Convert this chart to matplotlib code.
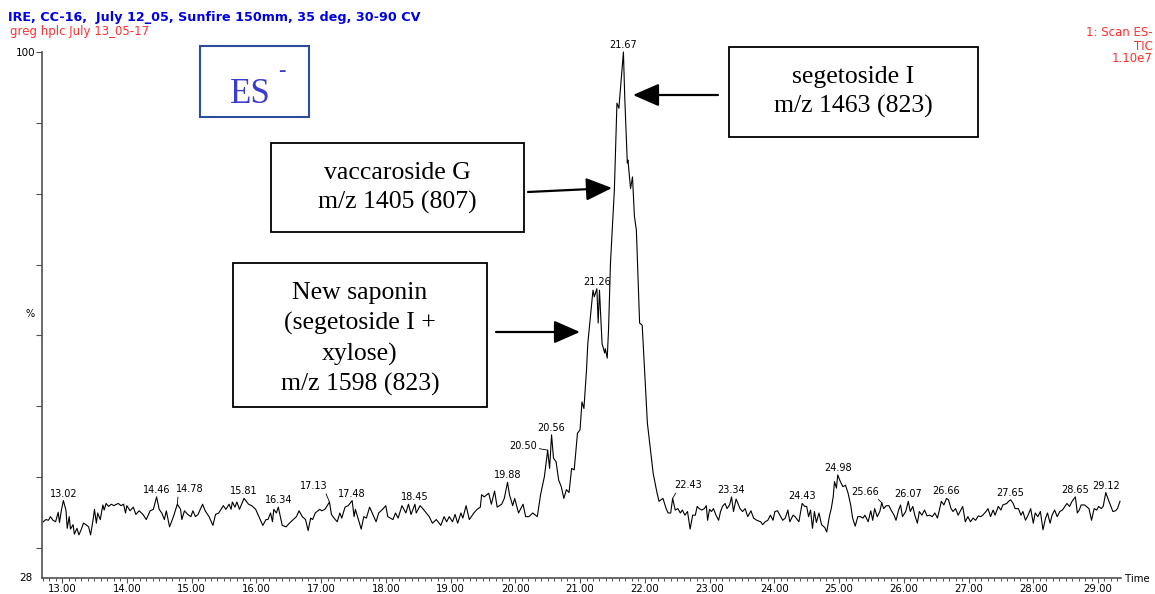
import numpy as np
import matplotlib
matplotlib.use('Agg')
import matplotlib.pyplot as plt
from matplotlib.patches import Rectangle

# TIC trace, retention time (min) vs relative intensity (%)
rt_front = [12.71, 12.75, 12.79, 12.82, 12.86, 12.90, 12.94, 12.96, 12.99, 13.02,
            13.06, 13.08, 13.11, 13.13, 13.17, 13.19, 13.23, 13.26, 13.29, 13.33,
            13.37, 13.41, 13.44, 13.48, 13.50, 13.53, 13.55, 13.59, 13.63, 13.65,
            13.68, 13.72, 13.76, 13.80, 13.84, 13.87, 13.91, 13.95, 13.98, 14.00,
            14.05, 14.10, 14.14, 14.19, 14.25, 14.30, 14.36, 14.41, 14.46, 14.50,
            14.54, 14.58, 14.61, 14.66, 14.72, 14.78, 14.83, 14.85, 14.89, 14.94,
            14.99, 15.02, 15.06, 15.10, 15.17, 15.21, 15.27, 15.33, 15.37, 15.42,
            15.49, 15.53, 15.58, 15.61, 15.63, 15.67, 15.70, 15.74, 15.81, 15.88,
            15.93, 15.99, 16.04, 16.10, 16.15, 16.18, 16.22, 16.25, 16.27, 16.31,
            16.34, 16.40, 16.46, 16.51, 16.57, 16.62, 16.66, 16.71, 16.76, 16.80,
            16.84, 16.87, 16.91, 16.98, 17.01, 17.06, 17.13, 17.16, 17.20, 17.25,
            17.29, 17.32, 17.37, 17.42, 17.48, 17.51, 17.53, 17.62, 17.66, 17.70,
            17.75, 17.80, 17.85, 17.89, 17.95, 18.00, 18.03, 18.11, 18.15, 18.19,
            18.25, 18.31, 18.35, 18.39, 18.45, 18.47, 18.53, 18.58, 18.67, 18.72,
            18.78, 18.85, 18.90, 18.94, 18.98, 19.03, 19.07, 19.11, 19.16, 19.19,
            19.24, 19.29, 19.36, 19.41, 19.46, 19.48, 19.52, 19.59, 19.63, 19.68,
            19.72, 19.79, 19.83, 19.88, 19.91, 19.96, 19.99, 20.05, 20.12, 20.16,
            20.21, 20.27, 20.34]
tic_front = [35.7, 36.0, 35.9, 36.4, 35.9, 35.7, 37.0, 35.6, 37.3, 38.6,
             37.3, 34.8, 36.4, 34.7, 35.3, 34.0, 34.8, 33.9, 34.5, 35.5,
             35.3, 35.0, 33.9, 36.0, 37.4, 35.5, 36.9, 36.0, 38.0, 37.3,
             38.2, 37.8, 38.1, 37.9, 38.1, 38.2, 37.9, 38.1, 36.9, 37.9,
             37.2, 37.7, 36.7, 37.2, 36.7, 36.0, 37.2, 37.4, 39.1, 37.4,
             36.9, 36.0, 37.2, 35.0, 36.4, 38.1, 37.4, 36.0, 37.2, 36.7,
             36.4, 37.2, 36.4, 36.7, 38.1, 37.2, 36.4, 35.2, 36.7, 36.9,
             37.9, 37.4, 38.1, 37.4, 38.4, 37.7, 38.4, 37.4, 38.9, 38.1,
             37.9, 37.4, 36.4, 35.2, 36.0, 36.0, 36.9, 35.7, 37.4, 36.9,
             37.7, 35.2, 35.0, 35.5, 36.0, 36.4, 37.2, 36.4, 36.0, 34.5,
             36.2, 36.0, 36.9, 37.4, 37.2, 37.4, 38.4, 36.7, 36.2, 35.7,
             36.9, 36.2, 37.7, 37.9, 38.6, 36.4, 37.4, 34.7, 36.4, 36.2,
             37.7, 36.7, 35.7, 36.9, 37.4, 37.9, 36.4, 36.0, 36.9, 36.2,
             37.9, 36.9, 38.1, 36.7, 38.1, 36.9, 37.9, 37.4, 36.4, 35.5,
             36.0, 35.2, 36.4, 35.7, 36.4, 35.7, 36.7, 35.5, 36.9, 36.2,
             37.9, 36.0, 36.9, 37.4, 37.7, 39.4, 39.1, 39.6, 38.1, 39.9,
             37.7, 38.1, 38.9, 41.1, 39.4, 37.9, 38.9, 36.9, 38.1, 36.4,
             36.4, 36.9, 36.4]

rt_peak = [20.39, 20.45, 20.50, 20.53, 20.56, 20.59, 20.63, 20.67, 20.71, 20.75,
           20.79, 20.83, 20.87, 20.91, 20.96, 21.00, 21.03, 21.06, 21.10, 21.12,
           21.16, 21.20, 21.22, 21.26, 21.28, 21.30, 21.34, 21.38, 21.39, 21.42,
           21.44, 21.47, 21.53, 21.57, 21.60, 21.67, 21.69, 21.73, 21.74, 21.78,
           21.81, 21.84, 21.87, 21.92, 21.96, 22.04, 22.13, 22.19]
tic_peak = [39.4, 41.9, 45.5, 43.0, 47.6, 44.4, 43.9, 41.4, 40.5, 38.9,
            40.1, 39.7, 43.0, 42.8, 47.8, 48.3, 52.1, 51.2, 56.5, 60.1,
            63.8, 67.4, 66.5, 67.6, 62.9, 67.4, 60.1, 58.8, 59.4, 58.1,
            62.0, 71.1, 81.1, 93.0, 92.3, 100.0, 93.9, 84.8, 85.2, 81.3,
            82.9, 77.5, 75.6, 62.9, 62.6, 49.2, 42.3, 39.6]

rt_tail = [22.22, 22.28, 22.33, 22.36, 22.40, 22.43, 22.47, 22.51, 22.55, 22.58,
           22.62, 22.66, 22.70, 22.74, 22.78, 22.81, 22.84, 22.88, 22.92, 22.95,
           22.97, 23.00, 23.03, 23.06, 23.10, 23.14, 23.17, 23.20, 23.24, 23.27,
           23.31, 23.34, 23.37, 23.41, 23.44, 23.47, 23.51, 23.55, 23.59, 23.64,
           23.68, 23.73, 23.79, 23.82, 23.86, 23.90, 23.94, 23.98, 24.01, 24.05,
           24.10, 24.13, 24.17, 24.21, 24.24, 24.29, 24.32, 24.38, 24.43, 24.47,
           24.50, 24.53, 24.56, 24.59, 24.62, 24.65, 24.69, 24.73, 24.78, 24.81,
           24.85, 24.88, 24.91, 24.93, 24.96, 24.98, 25.02, 25.06, 25.10, 25.14,
           25.18, 25.21, 25.25, 25.29, 25.33, 25.37, 25.40, 25.45, 25.49, 25.52,
           25.55, 25.59, 25.63, 25.66, 25.69, 25.73, 25.77, 25.81, 25.85, 25.88,
           25.92, 25.95, 25.98, 26.03, 26.07, 26.10, 26.14, 26.17, 26.21, 26.24,
           26.28, 26.32, 26.36, 26.40, 26.44, 26.48, 26.52, 26.55, 26.58, 26.62,
           26.66, 26.69, 26.73, 26.76, 26.80, 26.84, 26.88, 26.91, 26.95, 26.99,
           27.03, 27.07, 27.11, 27.15, 27.19, 27.22, 27.27, 27.30, 27.34, 27.38,
           27.41, 27.46, 27.50, 27.53, 27.59, 27.62, 27.65, 27.69, 27.72, 27.77,
           27.81, 27.84, 27.88, 27.92, 27.96, 28.00, 28.03, 28.07, 28.11, 28.15,
           28.19, 28.22, 28.26, 28.29, 28.33, 28.37, 28.41, 28.45, 28.49, 28.52,
           28.56, 28.60, 28.65, 28.68, 28.71, 28.74, 28.79, 28.82, 28.86, 28.90,
           28.94, 28.98, 29.01, 29.05, 29.08, 29.12, 29.16, 29.20, 29.23, 29.27,
           29.30, 29.34]
tic_tail = [38.5, 38.9, 37.5, 36.9, 36.9, 38.9, 37.3, 37.5, 36.9, 37.3,
            36.6, 37.1, 34.7, 36.6, 36.6, 37.8, 37.5, 37.3, 37.5, 37.9,
            35.9, 37.4, 37.1, 37.5, 36.6, 35.9, 37.1, 37.8, 38.2, 37.5,
            38.0, 39.1, 37.1, 38.8, 38.2, 37.5, 37.1, 37.5, 36.4, 37.2,
            36.2, 35.9, 35.7, 35.3, 35.7, 35.9, 36.6, 35.9, 37.1, 37.2,
            36.4, 35.9, 36.2, 37.3, 35.7, 36.6, 36.4, 35.7, 38.2, 37.8,
            37.8, 36.4, 37.3, 34.8, 37.1, 35.6, 36.9, 35.3, 34.9, 34.3,
            36.4, 37.5, 39.1, 41.2, 40.3, 42.1, 41.2, 40.5, 40.7, 39.6,
            38.0, 36.2, 35.1, 36.4, 36.4, 36.2, 36.6, 35.7, 37.2, 35.9,
            37.5, 36.4, 37.1, 38.3, 37.5, 37.9, 37.9, 37.2, 36.6, 35.9,
            37.3, 38.0, 36.4, 37.1, 38.5, 37.1, 37.8, 36.6, 35.5, 37.1,
            36.6, 37.3, 36.5, 36.6, 36.4, 36.9, 36.2, 37.3, 38.5, 38.0,
            38.9, 38.7, 37.5, 37.1, 37.5, 36.6, 37.3, 37.8, 35.7, 36.4,
            35.7, 36.2, 35.9, 36.5, 36.4, 36.6, 37.1, 37.5, 36.4, 37.3,
            36.6, 37.8, 37.3, 38.0, 38.2, 38.5, 38.7, 38.2, 37.5, 37.5,
            36.6, 37.1, 35.9, 36.6, 37.5, 35.5, 36.9, 36.4, 37.1, 34.6,
            36.2, 36.9, 35.5, 36.6, 37.3, 36.4, 37.1, 37.3, 37.8, 38.2,
            37.8, 38.5, 39.1, 36.9, 37.3, 38.0, 38.0, 37.8, 37.5, 35.9,
            37.5, 37.3, 37.8, 37.5, 37.8, 39.7, 38.7, 37.8, 37.1, 37.2,
            37.5, 38.5]

# labelled peak apexes
peak_rt = [13.02, 14.46, 14.78, 15.81, 16.34, 17.13, 17.48, 18.45, 19.88, 20.50,
           20.56, 21.26, 21.67, 22.43, 23.34, 24.43, 24.98, 25.66, 26.07, 26.66,
           27.65, 28.65, 29.12]
# labels drawn off to one side with a leader line: (dx, dy) in pixels, line anchor
leader = {14.78: (12, 15, (0.1, 0.1)), 17.13: (-16, 16, (0.9, 0.1)),
          20.50: (-25, 4, (1.0, 0.3)), 22.43: (15, 13, (0.15, 0.1)),
          25.66: (-17, 11, (0.85, 0.1))}

xtick_major = list(range(13, 30))
ytick_pos = [100, 90.3, 80.6, 70.9, 61.2, 51.5, 41.8, 32.1]

rt = np.array(rt_front + rt_peak + rt_tail)
tic = np.array(tic_front + tic_peak + tic_tail)

W, H = 1155, 594
fig = plt.figure(figsize=(W / 100, H / 100), dpi=100)
ax = fig.add_axes([42 / W, 1 - 578 / H, 1079 / W, 526 / H])

ax.plot(rt, tic, color='black', lw=0.8, clip_on=False)
ax.set_xlim(12.69, 29.355)
ax.set_ylim(28, 100)

for side in ['top', 'right']:
    ax.spines[side].set_visible(False)
for side in ['left', 'bottom']:
    ax.spines[side].set_color('#505050')
    ax.spines[side].set_linewidth(1.2)

ax.set_xticks(xtick_major)
ax.set_xticklabels(['%.2f' % v for v in xtick_major], fontsize=7.3)
ax.set_xticks(np.arange(12.7, 29.36, 0.1), minor=True)
ax.tick_params(axis='x', which='major', length=3.5, width=0.8, color='#505050', pad=0.5)
ax.tick_params(axis='x', which='minor', length=2.2, width=0.7, color='#505050')
ax.set_yticks(ytick_pos)
ax.set_yticklabels(['100'] + [''] * (len(ytick_pos) - 1), fontsize=7.5)
ax.tick_params(axis='y', length=4, width=0.8, color='#505050', pad=1)

def px(x, y):
    return x / W, 1 - y / H

fig.text(*px(19, 578), '28', fontsize=7.5, ha='left', va='center')
fig.text(*px(30, 314), '%', fontsize=7, ha='center', va='center')
fig.text(*px(1125, 579), 'Time', fontsize=7.3, ha='left', va='center')

# peak labels
for t in peak_rt:
    v = tic[np.argmin(np.abs(rt - t))]
    if t in leader:
        dx, dy, rel = leader[t]
        ax.annotate('%.2f' % t, xy=(t, v), xytext=(dx, dy), textcoords='offset pixels',
                    ha='center', va='center', fontsize=7,
                    arrowprops=dict(arrowstyle='-', lw=0.6, color='black',
                                    shrinkA=0, shrinkB=0, relpos=rel))
    else:
        ax.annotate('%.2f' % t, xy=(t, v), xytext=(0, 7), textcoords='offset pixels',
                    ha='center', va='center', fontsize=7)

# header
fig.text(*px(8, 18), 'IRE, CC-16,  July 12_05, Sunfire 150mm, 35 deg, 30-90 CV',
         fontsize=9.2, fontweight='bold', color='#0000e6', ha='left', va='center')
fig.text(*px(10, 32), 'greg hplc July 13_05-17', fontsize=8.5, color='#ff3030',
         ha='left', va='center')
fig.text(*px(1153, 33), '1: Scan ES-', fontsize=8.5, color='#ff3030', ha='right', va='center')
fig.text(*px(1153, 46), 'TIC', fontsize=8.5, color='#ff3030', ha='right', va='center')
fig.text(*px(1153, 58), '1.10e7', fontsize=8.5, color='#ff3030', ha='right', va='center')

# ionisation mode box
fig.add_artist(Rectangle(px(200, 117), 109 / W, 71 / H, transform=fig.transFigure,
                         fill=False, ec='#2b4d9c', lw=1.5))
fig.text(*px(230, 103), 'ES', fontsize=25, family='Liberation Serif', color='#3b3bcc',
         ha='left', va='baseline')
fig.text(*px(282, 72), '-', fontsize=16, family='Liberation Serif', color='#3b3bcc',
         ha='center', va='center')

# compound boxes: (left, top, right, bottom), centre x, baselines, lines
boxes = [
    ((729, 47, 978, 137), 853, [83, 113], ['segetoside I', 'm/z 1463 (823)']),
    ((271, 143, 524, 232), 397, [179, 209], ['vaccaroside G', 'm/z 1405 (807)']),
    ((233, 263, 487, 407), 360, [299, 330, 361, 391],
     ['New saponin', '(segetoside I +', 'xylose)', 'm/z 1598 (823)']),
]
for (l, t, r, b), cx, bases, lines in boxes:
    fig.add_artist(Rectangle(px(l, b), (r - l) / W, (b - t) / H,
                             transform=fig.transFigure, fill=False, ec='black', lw=1.3))
    for yb, s in zip(bases, lines):
        fig.text(*px(cx, yb), s, fontsize=18.5, family='Liberation Serif',
                 ha='center', va='baseline')

# arrows from the boxes to the peaks
arrows = [((718, 95), (633, 95)), ((528, 192), (612, 188)), ((496, 332), (580, 332))]
for (x0, y0), (x1, y1) in arrows:
    ax.annotate('', xy=(x1, H - y1), xytext=(x0, H - y0), xycoords='figure pixels',
                textcoords='figure pixels',
                arrowprops=dict(arrowstyle='-|>,head_length=0.8,head_width=0.35',
                                mutation_scale=20, lw=1.6, color='black',
                                shrinkA=0, shrinkB=0))

fig.savefig('out.png', dpi=100)
